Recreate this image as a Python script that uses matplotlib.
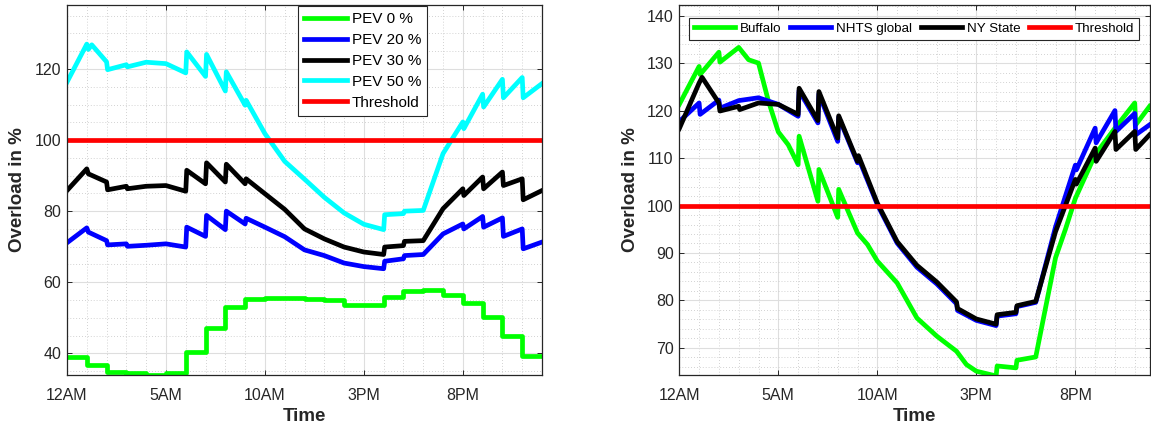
import matplotlib
matplotlib.use('Agg')
import matplotlib.pyplot as plt
from matplotlib.ticker import MultipleLocator

plt.rcParams['font.family'] = ['Liberation Sans', 'DejaVu Sans']

# ---- data: left panel (PEV penetration), time in hours ----
hours_step = list(range(25))
pev0 = [39.0, 36.7, 34.8, 34.4, 34.0, 34.6, 40.5, 47.0, 53.0, 55.2, 55.6, 55.6,
        55.2, 54.9, 53.5, 53.5, 55.8, 57.4, 57.7, 56.4, 54.1, 50.3, 44.9, 39.3, 39.3]

t_pev20 = [0, 1.0, 1.08, 2.0, 2.05, 3.0, 3.05, 4.0, 5.0, 6.0, 6.05, 7.0, 7.05, 8.0, 8.05,
           9.0, 9.05, 10.0, 11.0, 12.0, 13.0, 14.0, 15.0, 16.0, 16.05, 17.0, 17.05, 18.0,
           19.0, 20.0, 20.05, 21.0, 21.05, 22.0, 22.05, 23.0, 23.05, 24.0]
pev20 = [71.1, 75.3, 74.1, 71.7, 70.5, 70.8, 70.1, 70.4, 70.8, 69.9, 75.5, 72.9, 78.8, 74.8, 80.0,
         76.4, 78.0, 75.5, 72.8, 69.1, 67.5, 65.4, 64.4, 63.8, 65.9, 66.6, 67.5, 67.8,
         73.6, 76.4, 75.0, 78.5, 75.5, 78.1, 72.9, 75.0, 69.4, 71.3]

t_pev30 = t_pev20
pev30 = [85.8, 91.9, 90.5, 88.2, 86.0, 87.0, 86.3, 87.0, 87.2, 85.6, 91.5, 87.7, 93.6, 88.2, 93.2,
         87.7, 89.1, 84.9, 80.5, 75.0, 72.2, 69.9, 68.5, 67.8, 69.9, 70.3, 71.5, 71.7,
         80.7, 86.3, 84.4, 89.6, 86.3, 91.0, 87.2, 89.1, 83.2, 85.8]

t_pev50 = [0, 1.0, 1.08, 1.25, 2.0, 2.05, 3.0, 3.05, 4.0, 5.0, 6.0, 6.05, 7.0, 7.05, 8.0, 8.05,
           9.0, 9.05, 10.0, 11.0, 12.0, 13.0, 14.0, 15.0, 16.0, 16.05, 17.0, 17.05, 18.0,
           19.0, 20.0, 20.05, 21.0, 21.05, 22.0, 22.05, 23.0, 23.05, 24.0]
pev50 = [116.3, 127.0, 125.5, 126.8, 122.0, 119.8, 121.2, 120.6, 121.9, 121.5, 118.9, 124.8,
         117.9, 124.1, 113.8, 119.2, 109.8, 111.2, 101.8, 94.0, 89.0, 83.9, 79.5, 76.3, 74.8,
         79.0, 79.3, 80.0, 80.2, 96.2, 105.1, 103.2, 112.9, 109.3, 117.1, 111.9, 117.6, 111.9,
         115.9]

# ---- data: right panel (driving profiles) ----
t_buf = [0, 1.0, 1.05, 2.0, 2.05, 3.0, 3.5, 4.0, 4.5, 5.0, 5.5, 6.0, 6.05, 7.0, 7.05, 8.0, 8.05,
         9.0, 9.5, 10.0, 11.0, 12.0, 13.0, 14.0, 14.5, 15.0, 16.0, 16.05, 17.0, 17.05, 18.0,
         19.0, 19.5, 20.0, 21.0, 22.0, 23.0, 23.05, 23.75]
buffalo = [121.3, 129.3, 127.6, 132.3, 130.2, 133.3, 130.7, 130.0, 122.0, 115.5, 112.8, 108.6,
           114.6, 100.9, 107.6, 97.5, 103.4, 94.2, 91.8, 88.3, 83.7, 76.3, 72.5, 69.3, 66.5,
           65.1, 64.1, 66.2, 65.8, 67.4, 68.1, 89.0, 95.0, 101.5, 110.7, 116.3, 121.6, 117.0,
           120.9]

t_nhts = [0, 1.0, 1.05, 2.0, 2.05, 3.0, 4.0, 5.0, 6.0, 6.05, 7.0, 7.05, 8.0, 8.05, 9.0, 9.05,
          10.0, 11.0, 12.0, 13.0, 14.0, 14.05, 15.0, 16.0, 16.05, 17.0, 17.05, 18.0, 19.0,
          20.0, 20.05, 21.0, 21.05, 22.0, 22.05, 23.0, 23.05, 23.75]
nhts = [117.7, 121.6, 119.2, 122.2, 120.5, 122.1, 122.7, 121.3, 118.8, 124.2, 117.4, 123.5,
        113.5, 118.6, 109.0, 110.0, 100.2, 92.1, 87.0, 83.5, 79.3, 77.9, 75.8, 74.7, 76.7,
        77.2, 78.7, 79.6, 95.5, 108.5, 107.5, 116.3, 113.2, 120.0, 115.6, 119.4, 114.9, 117.0]

t_nys = [0, 1.0, 1.15, 2.0, 2.05, 3.0, 3.05, 4.0, 5.0, 6.0, 6.05, 7.0, 7.05, 8.0, 8.05, 9.0,
         9.05, 10.0, 11.0, 12.0, 13.0, 14.0, 14.05, 15.0, 16.0, 16.05, 17.0, 17.05, 18.0,
         19.0, 20.0, 20.05, 21.0, 21.05, 22.0, 22.05, 23.0, 23.05, 23.75]
nys = [116.2, 125.8, 127.0, 121.6, 119.9, 120.9, 120.2, 121.6, 121.3, 119.2, 124.7, 117.9,
       124.0, 114.2, 118.9, 109.3, 110.5, 100.5, 92.4, 87.4, 83.9, 79.7, 78.3, 76.1, 75.0,
       77.0, 77.5, 78.9, 79.8, 94.5, 105.5, 104.5, 112.1, 109.3, 115.6, 111.8, 115.6, 111.8,
       114.9]

threshold = 100
xticks = [0, 5, 10, 15, 20]
xticklabels = ['12AM', '5AM', '10AM', '3PM', '8PM']

LW = 3.4
DARK = '#262626'


def style_axes(ax, ymin, ymax, ymajor, yminor, xmax):
    ax.set_xlim(0, xmax)
    ax.set_ylim(ymin, ymax)
    ax.set_xticks(xticks)
    ax.set_xticklabels(xticklabels)
    ax.xaxis.set_minor_locator(MultipleLocator(1))
    ax.yaxis.set_major_locator(MultipleLocator(ymajor))
    ax.yaxis.set_minor_locator(MultipleLocator(yminor))
    ax.grid(which='major', color='#dedede', linewidth=0.8, linestyle='-')
    ax.grid(which='minor', color='#c4c4c4', linewidth=0.6, linestyle=(0, (1, 2.5)))
    ax.set_axisbelow(True)
    ax.tick_params(which='major', direction='in', top=True, right=True, length=3.5,
                   width=0.7, color=DARK, labelsize=11.5, labelcolor=DARK)
    ax.tick_params(axis='x', which='major', pad=9)
    ax.tick_params(axis='y', which='major', pad=4)
    ax.tick_params(which='minor', length=0)
    for sp in ax.spines.values():
        sp.set_color(DARK)
        sp.set_linewidth(0.9)
    ax.set_xlabel('Time', fontsize=13.5, fontweight='bold', color=DARK, labelpad=4)
    ax.set_ylabel('Overload in %', fontsize=13.5, fontweight='bold', color=DARK, labelpad=6)


fig = plt.figure(figsize=(11.51, 4.29), dpi=100)

# left panel
ax1 = fig.add_axes([67 / 1151, 54 / 429, 475 / 1151, 370 / 429])
ax1.plot(hours_step, pev0, color='#00ff00', lw=LW, drawstyle='steps-post', label='PEV 0 %')
ax1.plot(t_pev20, pev20, color='#0000ff', lw=LW, label='PEV 20 %')
ax1.plot(t_pev30, pev30, color='black', lw=LW, label='PEV 30 %')
ax1.plot(t_pev50, pev50, color='#00ffff', lw=LW, label='PEV 50 %')
ax1.axhline(threshold, color='#ff0000', lw=LW, label='Threshold')
style_axes(ax1, 33.9, 138, 20, 5, 24)
leg1 = ax1.legend(loc='upper left', bbox_to_anchor=(0.487, 0.997), fontsize=11,
                  frameon=True, fancybox=False, edgecolor=DARK, framealpha=1,
                  handlelength=2.8, handletextpad=0.3, borderpad=0.4, labelspacing=0.45,
                  borderaxespad=0)
leg1.get_frame().set_linewidth(0.8)

# right panel
ax2 = fig.add_axes([679.3 / 1151, 54 / 429, 470.7 / 1151, 370.3 / 429])
ax2.plot(t_buf, buffalo, color='#00ff00', lw=LW, label='Buffalo')
ax2.plot(t_nhts, nhts, color='#0000ff', lw=LW, label='NHTS global')
ax2.plot(t_nys, nys, color='black', lw=LW, label='NY State')
ax2.axhline(threshold, color='#ff0000', lw=LW, label='Threshold')
style_axes(ax2, 64.3, 142.3, 10, 2, 23.77)
leg2 = ax2.legend(loc='upper left', bbox_to_anchor=(0.021, 0.964), ncol=4, fontsize=9.6,
                  frameon=True, fancybox=False, edgecolor=DARK, framealpha=1,
                  handlelength=3.1, handletextpad=0.35, columnspacing=0.65, borderpad=0.35,
                  borderaxespad=0)
leg2.get_frame().set_linewidth(0.8)

fig.savefig('out.png', dpi=100)
